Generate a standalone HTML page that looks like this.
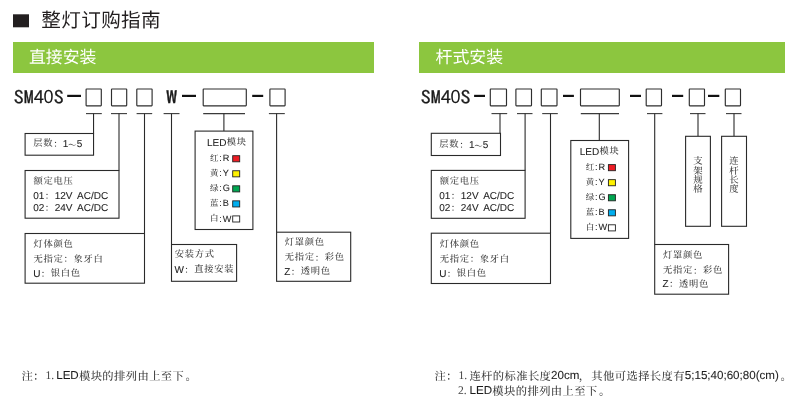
<!DOCTYPE html>
<html lang="zh-CN">
<head>
<meta charset="utf-8">
<title>整灯订购指南</title>
<style>
html,body{margin:0;padding:0;background:#fff;}
body{width:804px;height:405px;overflow:hidden;}
svg{display:block;will-change:transform;}
text{font-family:"Liberation Sans","Noto Serif CJK SC",serif;fill:#3c3c3c;text-rendering:geometricPrecision;}
.h1{font-family:"Liberation Sans","Noto Sans CJK SC",sans-serif;font-size:19.6px;letter-spacing:0.35px;fill:#231f20;font-weight:400;}
.h2{font-family:"Liberation Sans","Noto Sans CJK SC",sans-serif;font-size:16.9px;letter-spacing:0px;fill:#fff;font-weight:400;}
.code{font-family:"IPAGothic","Liberation Mono",monospace;font-size:20px;fill:#1a1a1a;stroke:#1a1a1a;stroke-width:0.3px;}
.zero{font-family:"Liberation Sans",sans-serif;font-size:20.7px;stroke:none;}
.v{font-size:9.4px;font-weight:500;}
.c{font-family:"Liberation Sans","Noto Serif CJK SC",serif;fill:#3c3c3c;font-weight:500;}
.a{font-family:"Liberation Sans",sans-serif;letter-spacing:0;fill:#1c1c1c;stroke:#1c1c1c;stroke-width:0.07px;}
.r{font-family:"Liberation Serif",serif;letter-spacing:0;fill:#444;}
</style>
</head>
<body>
<svg width="804" height="405" viewBox="0 0 804 405">
<rect x="0" y="0" width="804" height="405" fill="#ffffff"/>
<rect x="13" y="14.3" width="16" height="13" fill="#231f20"/>
<text x="41.30" y="27.20" class="h1">整灯订购指南</text>
<rect x="13" y="42" width="361" height="31" fill="#8cc63f"/>
<rect x="419" y="42" width="366" height="31" fill="#8cc63f"/>
<text x="28.90" y="63.40" class="h2">直接安装</text>
<text x="435.50" y="63.40" class="h2">杆式安装</text>
<text transform="translate(13.80,104.25) scale(1.0,0.915)" class="code">SM4<tspan class="zero" dx="-0.3" dy="-0.9" textLength="10" lengthAdjust="spacingAndGlyphs">0</tspan><tspan dx="0.2" dy="0.9">S</tspan></text>
<rect x="67.20" y="94.8" width="13.80" height="2.2" fill="#111"/>
<rect x="86.10" y="89.00" width="15.20" height="16.85" fill="none" stroke="#2e2e2e" stroke-width="1.15" rx="0.5"/>
<rect x="111.50" y="89.00" width="15.20" height="16.85" fill="none" stroke="#2e2e2e" stroke-width="1.15" rx="0.5"/>
<rect x="136.80" y="89.00" width="15.30" height="16.85" fill="none" stroke="#2e2e2e" stroke-width="1.15" rx="0.5"/>
<text transform="translate(166.10,104.25) scale(1.13,0.915)" class="code" style="stroke-width:0.3px">W</text>
<rect x="182.00" y="94.8" width="14.00" height="2.2" fill="#111"/>
<rect x="203.20" y="89.00" width="43.10" height="16.85" fill="none" stroke="#2e2e2e" stroke-width="1.15" rx="0.5"/>
<rect x="252.20" y="94.8" width="11.00" height="2.2" fill="#111"/>
<rect x="269.90" y="89.00" width="15.20" height="16.85" fill="none" stroke="#2e2e2e" stroke-width="1.15" rx="0.5"/>
<line x1="86.00" y1="113.60" x2="101.80" y2="113.60" stroke="#3a3a3a" stroke-width="1.1"/>
<line x1="93.55" y1="113.60" x2="93.55" y2="133.50" stroke="#2a2a2a" stroke-width="1.1"/>
<line x1="111.00" y1="113.60" x2="127.00" y2="113.60" stroke="#3a3a3a" stroke-width="1.1"/>
<line x1="119.00" y1="113.60" x2="119.00" y2="170.40" stroke="#2a2a2a" stroke-width="1.1"/>
<line x1="136.60" y1="113.60" x2="152.20" y2="113.60" stroke="#3a3a3a" stroke-width="1.1"/>
<line x1="144.50" y1="113.60" x2="144.50" y2="233.40" stroke="#2a2a2a" stroke-width="1.1"/>
<line x1="163.60" y1="113.60" x2="179.50" y2="113.60" stroke="#3a3a3a" stroke-width="1.1"/>
<line x1="171.50" y1="113.60" x2="171.50" y2="244.50" stroke="#2a2a2a" stroke-width="1.1"/>
<line x1="203.20" y1="113.60" x2="245.00" y2="113.60" stroke="#3a3a3a" stroke-width="1.1"/>
<line x1="223.90" y1="113.60" x2="223.90" y2="131.00" stroke="#2a2a2a" stroke-width="1.1"/>
<line x1="268.90" y1="113.60" x2="284.80" y2="113.60" stroke="#3a3a3a" stroke-width="1.1"/>
<line x1="276.60" y1="113.60" x2="276.60" y2="232.00" stroke="#2a2a2a" stroke-width="1.1"/>
<rect x="25.10" y="133.50" width="68.45" height="21.70" fill="none" stroke="#2a2a2a" stroke-width="1.1"/>
<text y="146.90" class="t" xml:space="preserve"><tspan class="c" x="33.15" dy="-0.80" font-size="9.3" letter-spacing="0.70">层数</tspan><tspan class="c" x="53.15" dy="0.80" font-size="9.3">：</tspan><tspan class="a" x="62.80" dy="0.00" font-size="10.0">1</tspan><tspan class="c" x="68.06" dy="1.50" font-size="8.6">～</tspan><tspan class="a" x="76.66" dy="-1.50" font-size="10.0">5</tspan></text>
<rect x="25.10" y="170.50" width="93.90" height="47.70" fill="none" stroke="#2a2a2a" stroke-width="1.1"/>
<text y="184.40" class="t" xml:space="preserve"><tspan class="c" x="33.55" dy="-0.80" font-size="9.3" letter-spacing="0.70">额定电压</tspan></text>
<text y="198.80" class="t" xml:space="preserve"><tspan class="a" x="33.20" dy="0.00" font-size="10.0">01</tspan><tspan class="c" x="44.67" dy="0.00" font-size="9.3">：</tspan><tspan class="a" x="54.72" dy="0.00" font-size="10.0">12V  </tspan><tspan class="a" x="77.07" dy="0.00" font-size="10.0">AC/DC</tspan></text>
<text y="210.80" class="t" xml:space="preserve"><tspan class="a" x="33.20" dy="0.00" font-size="10.0">02</tspan><tspan class="c" x="44.67" dy="0.00" font-size="9.3">：</tspan><tspan class="a" x="54.72" dy="0.00" font-size="10.0">24V  </tspan><tspan class="a" x="77.07" dy="0.00" font-size="10.0">AC/DC</tspan></text>
<rect x="25.10" y="233.50" width="119.40" height="49.70" fill="none" stroke="#2a2a2a" stroke-width="1.1"/>
<text y="247.60" class="t" xml:space="preserve"><tspan class="c" x="33.55" dy="-0.80" font-size="9.3" letter-spacing="0.70">灯体颜色</tspan></text>
<text y="262.30" class="t" xml:space="preserve"><tspan class="c" x="33.55" dy="-0.80" font-size="9.3" letter-spacing="0.70">无指定</tspan><tspan class="c" x="63.55" dy="0.80" font-size="9.3">：</tspan><tspan class="c" x="73.55" dy="-0.80" font-size="9.3" letter-spacing="0.70">象牙白</tspan></text>
<text y="276.50" class="t" xml:space="preserve"><tspan class="a" x="33.20" dy="0.00" font-size="10.0">U</tspan><tspan class="c" x="40.77" dy="0.00" font-size="9.3">：</tspan><tspan class="c" x="50.77" dy="-0.80" font-size="9.3" letter-spacing="0.70">银白色</tspan></text>
<rect x="195.10" y="131.10" width="57.80" height="98.40" fill="none" stroke="#2a2a2a" stroke-width="1.1"/>
<text y="146.10" class="t" xml:space="preserve"><tspan class="a" x="207.00" dy="0.00" font-size="10.0">LED</tspan><tspan class="c" x="226.80" dy="-0.80" font-size="9.3" letter-spacing="0.70">模块</tspan></text>
<text y="161.30" class="s" xml:space="preserve"><tspan class="c" x="210.05" dy="-0.40" font-size="8.5" letter-spacing="0.50">红</tspan><tspan class="a" x="219.20" dy="0.40" font-size="9.2">:</tspan><tspan class="a" x="222.86" dy="0.00" font-size="9.2">R</tspan></text>
<rect x="232.70" y="155.70" width="7.00" height="6.10" fill="#ed1c24" stroke="#222" stroke-width="0.9"/>
<text y="176.35" class="s" xml:space="preserve"><tspan class="c" x="210.05" dy="-0.40" font-size="8.5" letter-spacing="0.50">黄</tspan><tspan class="a" x="219.20" dy="0.40" font-size="9.2">:</tspan><tspan class="a" x="222.86" dy="0.00" font-size="9.2">Y</tspan></text>
<rect x="232.70" y="170.75" width="7.00" height="6.10" fill="#fff200" stroke="#222" stroke-width="0.9"/>
<text y="191.40" class="s" xml:space="preserve"><tspan class="c" x="210.05" dy="-0.40" font-size="8.5" letter-spacing="0.50">绿</tspan><tspan class="a" x="219.20" dy="0.40" font-size="9.2">:</tspan><tspan class="a" x="222.86" dy="0.00" font-size="9.2">G</tspan></text>
<rect x="232.70" y="185.80" width="7.00" height="6.10" fill="#00a651" stroke="#222" stroke-width="0.9"/>
<text y="206.45" class="s" xml:space="preserve"><tspan class="c" x="210.05" dy="-0.40" font-size="8.5" letter-spacing="0.50">蓝</tspan><tspan class="a" x="219.20" dy="0.40" font-size="9.2">:</tspan><tspan class="a" x="222.86" dy="0.00" font-size="9.2">B</tspan></text>
<rect x="232.70" y="200.85" width="7.00" height="6.10" fill="#00aeef" stroke="#222" stroke-width="0.9"/>
<text y="221.50" class="s" xml:space="preserve"><tspan class="c" x="210.05" dy="-0.40" font-size="8.5" letter-spacing="0.50">白</tspan><tspan class="a" x="219.20" dy="0.40" font-size="9.2">:</tspan><tspan class="a" x="222.86" dy="0.00" font-size="9.2">W</tspan></text>
<rect x="232.70" y="215.90" width="7.00" height="6.10" fill="#ffffff" stroke="#222" stroke-width="0.9"/>
<rect x="171.50" y="244.50" width="65.10" height="36.80" fill="none" stroke="#2a2a2a" stroke-width="1.1"/>
<text y="258.10" class="t" xml:space="preserve"><tspan class="c" x="174.75" dy="-0.80" font-size="9.3" letter-spacing="0.70">安装方式</tspan></text>
<text y="273.00" class="t" xml:space="preserve"><tspan class="a" x="174.40" dy="0.00" font-size="10.0">W</tspan><tspan class="c" x="184.19" dy="0.00" font-size="9.3">：</tspan><tspan class="c" x="194.19" dy="-0.80" font-size="9.3" letter-spacing="0.70">直接安装</tspan></text>
<rect x="276.60" y="232.20" width="74.10" height="49.10" fill="none" stroke="#2a2a2a" stroke-width="1.1"/>
<text y="245.90" class="t" xml:space="preserve"><tspan class="c" x="284.65" dy="-0.80" font-size="9.3" letter-spacing="0.70">灯罩颜色</tspan></text>
<text y="261.00" class="t" xml:space="preserve"><tspan class="c" x="284.65" dy="-0.80" font-size="9.3" letter-spacing="0.70">无指定</tspan><tspan class="c" x="314.65" dy="0.80" font-size="9.3">：</tspan><tspan class="c" x="324.65" dy="-0.80" font-size="9.3" letter-spacing="0.70">彩色</tspan></text>
<text y="274.60" class="t" xml:space="preserve"><tspan class="a" x="284.30" dy="0.00" font-size="10.0">Z</tspan><tspan class="c" x="290.76" dy="0.00" font-size="9.3">：</tspan><tspan class="c" x="300.76" dy="-0.80" font-size="9.3" letter-spacing="0.70">透明色</tspan></text>
<text transform="translate(420.70,104.25) scale(1.0,0.915)" class="code">SM4<tspan class="zero" dx="-0.3" dy="-0.9" textLength="10" lengthAdjust="spacingAndGlyphs">0</tspan><tspan dx="0.2" dy="0.9">S</tspan></text>
<rect x="474.10" y="94.8" width="10.90" height="2.2" fill="#111"/>
<rect x="490.30" y="89.00" width="16.20" height="16.85" fill="none" stroke="#2e2e2e" stroke-width="1.15" rx="0.5"/>
<rect x="515.90" y="89.00" width="15.60" height="16.85" fill="none" stroke="#2e2e2e" stroke-width="1.15" rx="0.5"/>
<rect x="541.30" y="89.00" width="15.70" height="16.85" fill="none" stroke="#2e2e2e" stroke-width="1.15" rx="0.5"/>
<rect x="563.00" y="94.8" width="10.90" height="2.2" fill="#111"/>
<rect x="580.50" y="89.00" width="38.80" height="16.85" fill="none" stroke="#2e2e2e" stroke-width="1.15" rx="0.5"/>
<rect x="630.00" y="94.8" width="11.00" height="2.2" fill="#111"/>
<rect x="646.20" y="89.00" width="15.30" height="16.85" fill="none" stroke="#2e2e2e" stroke-width="1.15" rx="0.5"/>
<rect x="672.00" y="94.8" width="11.20" height="2.2" fill="#111"/>
<rect x="689.30" y="89.00" width="15.20" height="16.85" fill="none" stroke="#2e2e2e" stroke-width="1.15" rx="0.5"/>
<rect x="708.00" y="94.8" width="11.30" height="2.2" fill="#111"/>
<rect x="725.30" y="89.00" width="15.20" height="16.85" fill="none" stroke="#2e2e2e" stroke-width="1.15" rx="0.5"/>
<line x1="491.50" y1="113.60" x2="507.20" y2="113.60" stroke="#3a3a3a" stroke-width="1.1"/>
<line x1="500.00" y1="113.60" x2="500.00" y2="133.30" stroke="#2a2a2a" stroke-width="1.1"/>
<line x1="517.00" y1="113.60" x2="532.50" y2="113.60" stroke="#3a3a3a" stroke-width="1.1"/>
<line x1="525.10" y1="113.60" x2="525.10" y2="170.40" stroke="#2a2a2a" stroke-width="1.1"/>
<line x1="542.20" y1="113.60" x2="557.80" y2="113.60" stroke="#3a3a3a" stroke-width="1.1"/>
<line x1="550.50" y1="113.60" x2="550.50" y2="233.20" stroke="#2a2a2a" stroke-width="1.1"/>
<line x1="580.80" y1="113.60" x2="619.00" y2="113.60" stroke="#3a3a3a" stroke-width="1.1"/>
<line x1="599.30" y1="113.60" x2="599.30" y2="140.50" stroke="#2a2a2a" stroke-width="1.1"/>
<line x1="647.00" y1="113.60" x2="662.40" y2="113.60" stroke="#3a3a3a" stroke-width="1.1"/>
<line x1="654.70" y1="113.60" x2="654.70" y2="244.50" stroke="#2a2a2a" stroke-width="1.1"/>
<line x1="690.00" y1="113.60" x2="705.50" y2="113.60" stroke="#3a3a3a" stroke-width="1.1"/>
<line x1="698.00" y1="113.60" x2="698.00" y2="136.00" stroke="#2a2a2a" stroke-width="1.1"/>
<line x1="726.00" y1="113.60" x2="741.50" y2="113.60" stroke="#3a3a3a" stroke-width="1.1"/>
<line x1="734.00" y1="113.60" x2="734.00" y2="136.00" stroke="#2a2a2a" stroke-width="1.1"/>
<rect x="431.30" y="133.30" width="69.20" height="22.20" fill="none" stroke="#2a2a2a" stroke-width="1.1"/>
<text y="147.80" class="t" xml:space="preserve"><tspan class="c" x="439.25" dy="-0.80" font-size="9.3" letter-spacing="0.70">层数</tspan><tspan class="c" x="459.25" dy="0.80" font-size="9.3">：</tspan><tspan class="a" x="468.90" dy="0.00" font-size="10.0">1</tspan><tspan class="c" x="474.16" dy="1.50" font-size="8.6">～</tspan><tspan class="a" x="482.76" dy="-1.50" font-size="10.0">5</tspan></text>
<rect x="431.30" y="170.40" width="93.80" height="47.90" fill="none" stroke="#2a2a2a" stroke-width="1.1"/>
<text y="184.40" class="t" xml:space="preserve"><tspan class="c" x="439.65" dy="-0.80" font-size="9.3" letter-spacing="0.70">额定电压</tspan></text>
<text y="198.80" class="t" xml:space="preserve"><tspan class="a" x="439.30" dy="0.00" font-size="10.0">01</tspan><tspan class="c" x="450.77" dy="0.00" font-size="9.3">：</tspan><tspan class="a" x="460.82" dy="0.00" font-size="10.0">12V  </tspan><tspan class="a" x="483.17" dy="0.00" font-size="10.0">AC/DC</tspan></text>
<text y="210.80" class="t" xml:space="preserve"><tspan class="a" x="439.30" dy="0.00" font-size="10.0">02</tspan><tspan class="c" x="450.77" dy="0.00" font-size="9.3">：</tspan><tspan class="a" x="460.82" dy="0.00" font-size="10.0">24V  </tspan><tspan class="a" x="483.17" dy="0.00" font-size="10.0">AC/DC</tspan></text>
<rect x="431.30" y="233.20" width="119.20" height="50.30" fill="none" stroke="#2a2a2a" stroke-width="1.1"/>
<text y="247.30" class="t" xml:space="preserve"><tspan class="c" x="439.65" dy="-0.80" font-size="9.3" letter-spacing="0.70">灯体颜色</tspan></text>
<text y="262.40" class="t" xml:space="preserve"><tspan class="c" x="439.65" dy="-0.80" font-size="9.3" letter-spacing="0.70">无指定</tspan><tspan class="c" x="469.65" dy="0.80" font-size="9.3">：</tspan><tspan class="c" x="479.65" dy="-0.80" font-size="9.3" letter-spacing="0.70">象牙白</tspan></text>
<text y="276.70" class="t" xml:space="preserve"><tspan class="a" x="439.30" dy="0.00" font-size="10.0">U</tspan><tspan class="c" x="446.87" dy="0.00" font-size="9.3">：</tspan><tspan class="c" x="456.87" dy="-0.80" font-size="9.3" letter-spacing="0.70">银白色</tspan></text>
<rect x="570.80" y="140.50" width="57.80" height="97.90" fill="none" stroke="#2a2a2a" stroke-width="1.1"/>
<text y="154.80" class="t" xml:space="preserve"><tspan class="a" x="579.80" dy="0.00" font-size="10.0">LED</tspan><tspan class="c" x="599.60" dy="-0.80" font-size="9.3" letter-spacing="0.70">模块</tspan></text>
<text y="170.20" class="s" xml:space="preserve"><tspan class="c" x="585.75" dy="-0.40" font-size="8.5" letter-spacing="0.50">红</tspan><tspan class="a" x="594.90" dy="0.40" font-size="9.2">:</tspan><tspan class="a" x="598.56" dy="0.00" font-size="9.2">R</tspan></text>
<rect x="608.40" y="164.60" width="7.00" height="6.10" fill="#ed1c24" stroke="#222" stroke-width="0.9"/>
<text y="185.25" class="s" xml:space="preserve"><tspan class="c" x="585.75" dy="-0.40" font-size="8.5" letter-spacing="0.50">黄</tspan><tspan class="a" x="594.90" dy="0.40" font-size="9.2">:</tspan><tspan class="a" x="598.56" dy="0.00" font-size="9.2">Y</tspan></text>
<rect x="608.40" y="179.65" width="7.00" height="6.10" fill="#fff200" stroke="#222" stroke-width="0.9"/>
<text y="200.30" class="s" xml:space="preserve"><tspan class="c" x="585.75" dy="-0.40" font-size="8.5" letter-spacing="0.50">绿</tspan><tspan class="a" x="594.90" dy="0.40" font-size="9.2">:</tspan><tspan class="a" x="598.56" dy="0.00" font-size="9.2">G</tspan></text>
<rect x="608.40" y="194.70" width="7.00" height="6.10" fill="#00a651" stroke="#222" stroke-width="0.9"/>
<text y="215.35" class="s" xml:space="preserve"><tspan class="c" x="585.75" dy="-0.40" font-size="8.5" letter-spacing="0.50">蓝</tspan><tspan class="a" x="594.90" dy="0.40" font-size="9.2">:</tspan><tspan class="a" x="598.56" dy="0.00" font-size="9.2">B</tspan></text>
<rect x="608.40" y="209.75" width="7.00" height="6.10" fill="#00aeef" stroke="#222" stroke-width="0.9"/>
<text y="230.40" class="s" xml:space="preserve"><tspan class="c" x="585.75" dy="-0.40" font-size="8.5" letter-spacing="0.50">白</tspan><tspan class="a" x="594.90" dy="0.40" font-size="9.2">:</tspan><tspan class="a" x="598.56" dy="0.00" font-size="9.2">W</tspan></text>
<rect x="608.40" y="224.80" width="7.00" height="6.10" fill="#ffffff" stroke="#222" stroke-width="0.9"/>
<rect x="654.70" y="244.50" width="73.90" height="49.70" fill="none" stroke="#2a2a2a" stroke-width="1.1"/>
<text y="258.60" class="t" xml:space="preserve"><tspan class="c" x="662.95" dy="-0.80" font-size="9.3" letter-spacing="0.70">灯罩颜色</tspan></text>
<text y="273.70" class="t" xml:space="preserve"><tspan class="c" x="662.95" dy="-0.80" font-size="9.3" letter-spacing="0.70">无指定</tspan><tspan class="c" x="692.95" dy="0.80" font-size="9.3">：</tspan><tspan class="c" x="702.95" dy="-0.80" font-size="9.3" letter-spacing="0.70">彩色</tspan></text>
<text y="287.30" class="t" xml:space="preserve"><tspan class="a" x="662.60" dy="0.00" font-size="10.0">Z</tspan><tspan class="c" x="669.06" dy="0.00" font-size="9.3">：</tspan><tspan class="c" x="679.06" dy="-0.80" font-size="9.3" letter-spacing="0.70">透明色</tspan></text>
<rect x="685.60" y="136.30" width="24.80" height="90.00" fill="none" stroke="#2a2a2a" stroke-width="1.1"/>
<text x="693.30 693.30 693.30 693.30" y="164.30 173.65 183.00 192.35" class="v">支架规格</text>
<rect x="721.60" y="136.30" width="24.90" height="90.00" fill="none" stroke="#2a2a2a" stroke-width="1.1"/>
<text x="729.35 729.35 729.35 729.35" y="164.30 173.65 183.00 192.35" class="v">连杆长度</text>
<text y="379.80" class="n" xml:space="preserve"><tspan class="c" x="21.40" dy="-0.30" font-size="11.3" letter-spacing="0.40">注</tspan><tspan class="c" x="33.10" dy="0.30" font-size="11.3">：</tspan><tspan class="r" x="45.40" dy="-0.70" font-size="11.6">1. </tspan><tspan class="a" x="56.20" dy="0.00" font-size="11.6">LED</tspan><tspan class="c" x="78.97" dy="0.40" font-size="11.3" letter-spacing="0.40">模块的排列由上至下</tspan><tspan class="c" x="185.57" dy="0.00" font-size="11.3" letter-spacing="0.40">。</tspan></text>
<text y="379.80" class="n" xml:space="preserve"><tspan class="c" x="434.40" dy="-0.30" font-size="11.3" letter-spacing="0.40">注</tspan><tspan class="c" x="446.10" dy="0.30" font-size="11.3">：</tspan><tspan class="r" x="458.40" dy="-0.70" font-size="11.6">1. </tspan><tspan class="c" x="469.40" dy="0.40" font-size="11.3" letter-spacing="0.40">连杆的标准长度</tspan><tspan class="a" x="551.10" dy="-0.40" font-size="11.6">20cm</tspan><tspan class="c" x="578.67" dy="0.40" font-size="11.3" letter-spacing="0.40">，</tspan><tspan class="c" x="591.37" dy="0.00" font-size="11.3" letter-spacing="0.40">其他可选择长度有</tspan><tspan class="a" x="684.77" dy="-0.40" font-size="11.6">5;15;40;60;80(cm)</tspan><tspan class="c" x="780.41" dy="0.40" font-size="11.3" letter-spacing="0.40">。</tspan></text>
<text y="395.00" class="n" xml:space="preserve"><tspan class="r" x="458.00" dy="-0.70" font-size="11.6">2. </tspan><tspan class="a" x="469.60" dy="0.00" font-size="11.6">LED</tspan><tspan class="c" x="492.37" dy="0.40" font-size="11.3" letter-spacing="0.40">模块的排列由上至下</tspan><tspan class="c" x="598.97" dy="0.00" font-size="11.3" letter-spacing="0.40">。</tspan></text>
</svg>
</body>
</html>
